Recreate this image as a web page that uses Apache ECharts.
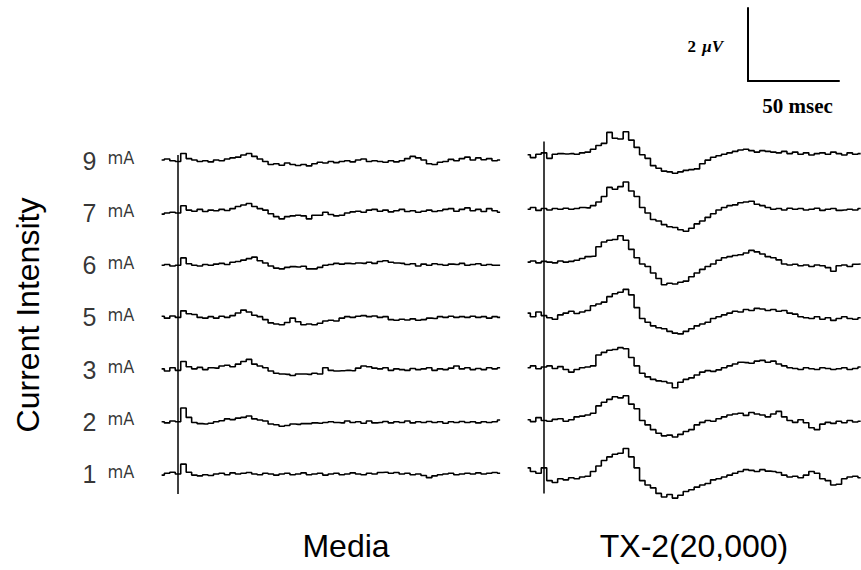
<!DOCTYPE html>
<html>
<head>
<meta charset="utf-8">
<title>Evoked responses: Media vs TX-2(20,000)</title>
<script src="https://cdn.jsdelivr.net/npm/echarts@6/dist/echarts.min.js"></script>
<style>
  html, body { margin: 0; padding: 0; background: #fff; }
  #chart { width: 861px; height: 570px; }
</style>
</head>
<body>
<div id="chart"></div>
<script>
// sample times (ms after stimulus), one value every 3 ms
const TIMES_MS = [-9, -6, -3, 0, 3, 6, 9, 12, 15, 18, 21, 24, 27, 30, 33, 36, 39, 42, 45, 48,
  51, 54, 57, 60, 63, 66, 69, 72, 75, 78, 81, 84, 87, 90, 93, 96, 99, 102, 105, 108,
  111, 114, 117, 120, 123, 126, 129, 132, 135, 138, 141, 144, 147, 150, 153, 156, 159, 162, 165, 168,
  171, 174, 177];

// stimulus currents, top row to bottom row
const CURRENTS = ['9', '7', '6', '5', '3', '2', '1'];
const CURRENT_UNIT = 'mA';

// Media traces (µV, relative to each row's baseline)
const MEDIA_9 = [0.02, 0.05, 0.0, -0.02, 0.2, 0.06, 0.02, -0.02, 0.0, -0.03,
  0.02, 0.0, 0.05, 0.08, 0.1, 0.16, 0.2, 0.12, 0.05, -0.02,
  -0.1, -0.08, -0.12, -0.06, -0.1, -0.13, -0.1, -0.14, -0.08, -0.04,
  -0.06, -0.02, -0.05, -0.02, 0.0, -0.03, 0.02, 0.05, -0.02, 0.0,
  -0.02, -0.04, 0.0, -0.03, 0.0, 0.06, 0.12, 0.08, 0.02, -0.08,
  -0.1, -0.04, -0.02, 0.04, 0.0, 0.06, 0.1, 0.02, 0.08, 0.03,
  0.06, 0.0, 0.02];
const MEDIA_7 = [-0.03, 0.0, 0.02, 0.0, 0.2, 0.08, 0.05, 0.1, 0.04, 0.08,
  0.06, 0.1, 0.07, 0.12, 0.18, 0.22, 0.26, 0.18, 0.12, 0.08,
  -0.02, -0.1, -0.16, -0.1, -0.08, -0.06, -0.08, -0.16, -0.06, -0.06,
  0.02, -0.04, -0.08, -0.06, 0.0, 0.03, 0.05, 0.02, 0.08, 0.1,
  0.05, 0.08, 0.03, 0.06, 0.1, 0.04, 0.06, 0.02, 0.05, 0.08,
  0.04, 0.06, 0.1, 0.12, 0.05, 0.1, 0.14, 0.06, 0.1, 0.04,
  0.12, 0.06, 0.02];
const MEDIA_6 = [0.0, 0.02, -0.02, 0.0, 0.2, 0.04, 0.0, -0.02, 0.02, 0.0,
  0.03, 0.05, 0.02, 0.08, 0.1, 0.14, 0.18, 0.22, 0.12, 0.06,
  -0.02, -0.08, -0.1, -0.06, -0.04, -0.05, -0.03, -0.1, -0.1, -0.06,
  0.0, 0.02, 0.05, 0.03, 0.05, 0.04, 0.06, 0.05, 0.08, 0.05,
  0.1, 0.12, 0.08, 0.06, 0.05, 0.02, 0.04, -0.02, 0.03, 0.0,
  0.04, 0.02, 0.0, 0.03, 0.02, 0.05, 0.0, 0.02, 0.04, 0.0,
  0.02, 0.0, 0.0];
const MEDIA_5 = [0.03, -0.02, 0.04, 0.0, 0.18, 0.1, 0.08, 0.0, -0.02, 0.02,
  -0.02, 0.03, 0.0, 0.05, 0.12, 0.2, 0.15, 0.06, 0.02, -0.06,
  -0.15, -0.18, -0.2, -0.14, -0.02, -0.12, -0.2, -0.18, -0.2, -0.16,
  -0.1, -0.08, -0.1, -0.02, 0.02, 0.0, 0.03, 0.05, 0.02, 0.04,
  0.0, 0.02, -0.06, -0.08, -0.05, -0.07, -0.04, -0.08, -0.06, -0.02,
  -0.03, 0.02, 0.0, 0.03, 0.0, 0.02, 0.0, 0.03, 0.0, 0.02,
  -0.02, 0.02, 0.0];
const MEDIA_3 = [0.02, -0.04, 0.05, -0.02, 0.22, 0.08, 0.02, 0.06, 0.0, 0.05,
  0.04, 0.1, 0.12, 0.08, 0.15, 0.22, 0.28, 0.15, 0.1, 0.05,
  -0.04, -0.1, -0.12, -0.13, -0.16, -0.12, -0.12, -0.13, -0.1, -0.12,
  0.05, -0.02, -0.04, -0.03, -0.02, -0.03, 0.04, 0.1, 0.08, 0.04,
  0.02, 0.05, -0.02, 0.02, 0.0, -0.02, 0.03, 0.0, 0.02, 0.05,
  -0.02, 0.02, 0.0, 0.04, 0.1, 0.02, 0.05, 0.0, 0.03, 0.0,
  0.05, 0.02, 0.05];
const MEDIA_2 = [0.0, -0.03, 0.02, 0.0, 0.38, 0.12, -0.02, -0.05, -0.06, -0.04,
  0.0, 0.03, 0.08, 0.06, 0.1, 0.12, 0.16, 0.08, 0.05, 0.02,
  -0.06, -0.08, -0.12, -0.1, -0.06, -0.07, -0.05, -0.05, -0.03, -0.04,
  -0.02, 0.0, -0.02, -0.03, 0.02, -0.02, 0.0, -0.04, 0.02, -0.03,
  -0.02, 0.01, -0.03, 0.0, -0.02, 0.02, -0.03, 0.0, -0.02, 0.01,
  -0.02, 0.0, -0.04, 0.0, -0.02, 0.01, -0.02, 0.0, -0.03, 0.0,
  -0.02, 0.0, 0.05];
const MEDIA_1 = [-0.03, 0.02, 0.05, 0.0, 0.27, 0.05, -0.03, -0.05, -0.02, -0.04,
  0.0, 0.02, -0.02, 0.03, 0.0, 0.02, 0.04, 0.0, -0.02, 0.02,
  0.0, -0.03, 0.0, 0.02, -0.02, 0.0, 0.03, -0.02, 0.0, 0.02,
  -0.03, 0.0, 0.02, -0.02, 0.0, 0.03, 0.0, -0.02, 0.02, 0.0,
  0.04, 0.05, 0.02, 0.04, 0.0, 0.02, -0.02, 0.0, -0.04, -0.1,
  -0.05, -0.02, 0.0, 0.02, -0.02, 0.0, 0.02, 0.0, 0.03, 0.0,
  0.02, 0.04, 0.02];

// TX-2(20,000) traces (µV)
const TX2_9 = [0.05, -0.03, 0.06, 0.1, -0.05, 0.06, 0.08, 0.07, 0.08, 0.06,
  0.1, 0.12, 0.2, 0.3, 0.36, 0.66, 0.5, 0.48, 0.68, 0.45,
  0.25, 0.05, -0.05, -0.25, -0.32, -0.4, -0.42, -0.46, -0.42, -0.38,
  -0.36, -0.34, -0.2, -0.1, -0.02, 0.02, 0.06, 0.1, 0.14, 0.18,
  0.2, 0.16, 0.12, 0.16, 0.14, 0.12, 0.1, 0.14, 0.08, 0.12,
  0.06, 0.1, 0.04, 0.08, 0.1, 0.06, 0.12, 0.08, 0.04, 0.1,
  0.06, 0.08];
const TX2_7 = [0.0, 0.05, -0.03, 0.02, -0.02, 0.02, 0.0, 0.03, 0.0, 0.02,
  0.05, 0.04, 0.1, 0.2, 0.35, 0.6, 0.55, 0.62, 0.75, 0.5,
  0.35, 0.05, -0.1, -0.28, -0.32, -0.42, -0.48, -0.5, -0.56, -0.6,
  -0.52, -0.4, -0.32, -0.22, -0.12, -0.02, 0.05, 0.1, 0.12, 0.18,
  0.2, 0.22, 0.14, 0.1, 0.05, 0.0, 0.02, -0.02, 0.03, 0.0,
  0.02, -0.02, 0.0, 0.03, -0.03, 0.0, 0.02, -0.03, -0.02, 0.0,
  -0.02, 0.02];
const TX2_6 = [0.0, 0.03, -0.02, 0.02, 0.0, -0.02, 0.03, 0.0, 0.02, 0.05,
  0.1, 0.15, 0.16, 0.42, 0.55, 0.6, 0.62, 0.72, 0.6, 0.35,
  0.12, -0.05, -0.12, -0.3, -0.45, -0.62, -0.58, -0.6, -0.55, -0.52,
  -0.4, -0.3, -0.2, -0.12, -0.05, 0.05, 0.12, 0.15, 0.18, 0.2,
  0.25, 0.32, 0.28, 0.22, 0.15, 0.12, 0.06, -0.05, -0.08, -0.06,
  -0.1, -0.08, -0.12, -0.08, -0.1, -0.15, -0.25, -0.1, -0.08, -0.12,
  -0.06, -0.05];
const TX2_5 = [0.05, -0.05, 0.08, -0.02, -0.08, -0.12, 0.0, 0.05, 0.1, 0.04,
  0.08, 0.12, 0.25, 0.3, 0.35, 0.5, 0.58, 0.62, 0.7, 0.55,
  0.2, -0.1, -0.2, -0.3, -0.35, -0.38, -0.45, -0.5, -0.52, -0.45,
  -0.38, -0.3, -0.25, -0.2, -0.1, -0.05, 0.0, 0.05, 0.1, 0.08,
  0.15, 0.12, 0.18, 0.16, 0.12, 0.15, 0.1, 0.12, 0.05, 0.02,
  -0.05, -0.08, -0.1, -0.05, -0.12, -0.08, -0.15, -0.1, -0.05, -0.1,
  -0.12, -0.08];
const TX2_3 = [0.0, 0.05, -0.03, 0.02, 0.05, -0.02, 0.03, -0.05, -0.12, -0.05,
  0.0, 0.02, 0.05, 0.35, 0.42, 0.48, 0.5, 0.55, 0.52, 0.28,
  0.05, -0.15, -0.25, -0.32, -0.36, -0.38, -0.42, -0.55, -0.4, -0.32,
  -0.28, -0.2, -0.12, -0.08, -0.1, -0.06, 0.0, 0.05, 0.1, 0.15,
  0.14, 0.12, 0.18, 0.2, 0.15, 0.18, 0.1, 0.05, 0.0, -0.02,
  -0.05, 0.0, -0.03, -0.05, 0.0, -0.02, -0.05, -0.03, 0.0, -0.05,
  -0.02, 0.02];
const TX2_2 = [0.02, -0.03, 0.08, 0.0, -0.02, 0.03, 0.05, -0.02, 0.02, 0.1,
  0.12, 0.15, 0.2, 0.4, 0.5, 0.58, 0.65, 0.62, 0.68, 0.45,
  0.32, 0.0, -0.12, -0.25, -0.35, -0.42, -0.4, -0.45, -0.38, -0.3,
  -0.25, -0.12, -0.05, 0.0, -0.02, 0.05, 0.1, 0.15, 0.18, 0.2,
  0.14, 0.22, 0.18, 0.15, 0.1, 0.18, 0.25, 0.1, 0.0, -0.05,
  0.02, -0.06, -0.2, -0.25, -0.1, -0.05, -0.08, -0.02, -0.06, 0.0,
  -0.04, -0.02];
const TX2_1 = [0.15, 0.05, 0.0, 0.15, -0.2, -0.25, -0.15, -0.18, -0.12, -0.15,
  -0.1, -0.08, 0.05, 0.2, 0.35, 0.45, 0.52, 0.55, 0.68, 0.45,
  0.15, -0.2, -0.32, -0.4, -0.55, -0.65, -0.58, -0.68, -0.6, -0.5,
  -0.45, -0.38, -0.32, -0.28, -0.18, -0.15, -0.1, -0.05, 0.0, 0.05,
  0.1, 0.08, 0.05, 0.1, 0.06, 0.05, 0.02, -0.05, -0.1, -0.08,
  -0.12, -0.05, 0.05, 0.0, -0.15, -0.2, -0.32, -0.3, -0.15, -0.1,
  -0.08, -0.12];

const MEDIA_TRACES = [MEDIA_9, MEDIA_7, MEDIA_6, MEDIA_5, MEDIA_3, MEDIA_2, MEDIA_1];
const TX2_TRACES = [TX2_9, TX2_7, TX2_6, TX2_5, TX2_3, TX2_2, TX2_1];
const PANEL_TITLES = ['Media', 'TX-2(20,000)'];
const Y_TITLE = 'Current Intensity';

// calibration bar
const SCALE_MS = 50;
const SCALE_UV = 2;

// layout
const PX_PER_MS = 1.82;
const PX_PER_UV = 36.5;
const GRID_TOP = 120;
const GRID_HEIGHT = 400;
const SANS = "'Liberation Sans', Arial, sans-serif";
const SERIF = "'Liberation Serif', 'Times New Roman', serif";

const panels = [
  { stimX: 178, tMin: -10, tMax: 177, base: 474, gap: 52.2, stimTop: 0.16, stimBottom: -0.55, traces: MEDIA_TRACES },
  { stimX: 544, tMin: -10, tMax: 174, base: 473.3, gap: 52.8, stimTop: 0.41, stimBottom: -0.55, traces: TX2_TRACES },
];

const chart = echarts.init(document.getElementById('chart'), null, { renderer: 'svg' });

const grids = [];
const xAxes = [];
const yAxes = [];
const series = [];

panels.forEach((p, pi) => {
  const yMin = -(GRID_TOP + GRID_HEIGHT - p.base) / PX_PER_UV;
  grids.push({
    left: p.stimX + p.tMin * PX_PER_MS,
    top: GRID_TOP,
    width: (p.tMax - p.tMin) * PX_PER_MS,
    height: GRID_HEIGHT,
  });
  xAxes.push({ type: 'value', gridIndex: pi, min: p.tMin, max: p.tMax, show: false });
  yAxes.push({ type: 'value', gridIndex: pi, min: yMin, max: yMin + GRID_HEIGHT / PX_PER_UV, show: false });

  const rowOffset = (r) => (CURRENTS.length - 1 - r) * p.gap / PX_PER_UV;

  p.traces.forEach((vals, r) => {
    series.push({
      type: 'line',
      xAxisIndex: pi,
      yAxisIndex: pi,
      symbol: 'none',
      step: 'middle',
      silent: true,
      lineStyle: { color: '#000', width: 1.6 },
      data: vals.map((v, i) => [TIMES_MS[i], v + rowOffset(r)]),
    });
  });

  // stimulus marker
  series.push({
    type: 'line',
    xAxisIndex: pi,
    yAxisIndex: pi,
    symbol: 'none',
    silent: true,
    lineStyle: { color: '#000', width: 1.5 },
    data: [[0, rowOffset(0) + p.stimTop], [0, p.stimBottom]],
  });

  if (pi === 0) {
    series.push({
      type: 'scatter',
      xAxisIndex: pi,
      yAxisIndex: pi,
      symbolSize: 1,
      clip: false,
      silent: true,
      itemStyle: { color: 'transparent' },
      label: {
        show: true,
        position: 'left',
        distance: 25,
        formatter: (d) => `{n|${CURRENTS[d.dataIndex]}}{u|${CURRENT_UNIT}}`,
        rich: {
          n: { fontSize: 25, fontFamily: SANS, color: '#000' },
          u: {
            fontSize: 18,
            fontFamily: "'Liberation Sans Narrow', 'DejaVu Sans Condensed', sans-serif",
            color: '#000',
            padding: [0, 0, 6, 11],
          },
        },
      },
      data: CURRENTS.map((c, r) => [p.tMin, rowOffset(r)]),
    });
  }
});

// calibration bar: its two axis lines are the bar
grids.push({ left: 748, top: 8, width: SCALE_MS * PX_PER_MS, height: SCALE_UV * PX_PER_UV });
xAxes.push({
  type: 'value', gridIndex: 2, min: 0, max: SCALE_MS,
  axisLine: { show: true, lineStyle: { color: '#000', width: 2 } },
  axisTick: { show: false }, axisLabel: { show: false }, splitLine: { show: false },
  name: `${SCALE_MS} msec`,
  nameLocation: 'middle',
  nameGap: 14,
  nameTextStyle: { fontFamily: SERIF, fontWeight: 'bold', fontSize: 21, color: '#000', padding: [0, 0, 0, 8] },
});
yAxes.push({
  type: 'value', gridIndex: 2, min: 0, max: SCALE_UV,
  axisLine: { show: true, lineStyle: { color: '#000', width: 2 } },
  axisTick: { show: false }, axisLabel: { show: false }, splitLine: { show: false },
});

chart.setOption({
  animation: false,
  backgroundColor: '#fff',
  grid: grids,
  xAxis: xAxes,
  yAxis: yAxes,
  series: series,
  graphic: [
    {
      type: 'text', x: 28, y: 315, rotation: Math.PI / 2,
      style: { text: Y_TITLE, font: `32px ${SANS}`, fill: '#000', align: 'center', verticalAlign: 'middle' },
    },
    {
      type: 'text', x: 346, y: 546,
      style: { text: PANEL_TITLES[0], font: `32px ${SANS}`, fill: '#000', align: 'center', verticalAlign: 'middle' },
    },
    {
      type: 'text', x: 694, y: 546,
      style: { text: PANEL_TITLES[1], font: `32px ${SANS}`, fill: '#000', align: 'center', verticalAlign: 'middle' },
    },
    {
      type: 'text', x: 696, y: 46,
      style: { text: String(SCALE_UV), font: `bold 17px ${SERIF}`, fill: '#000', align: 'right', verticalAlign: 'middle' },
    },
    {
      type: 'text', x: 702, y: 46,
      style: { text: 'µV', font: `italic bold 17px ${SERIF}`, fill: '#000', align: 'left', verticalAlign: 'middle' },
    },
  ],
});

window.addEventListener('resize', () => chart.resize());
</script>
</body>
</html>
